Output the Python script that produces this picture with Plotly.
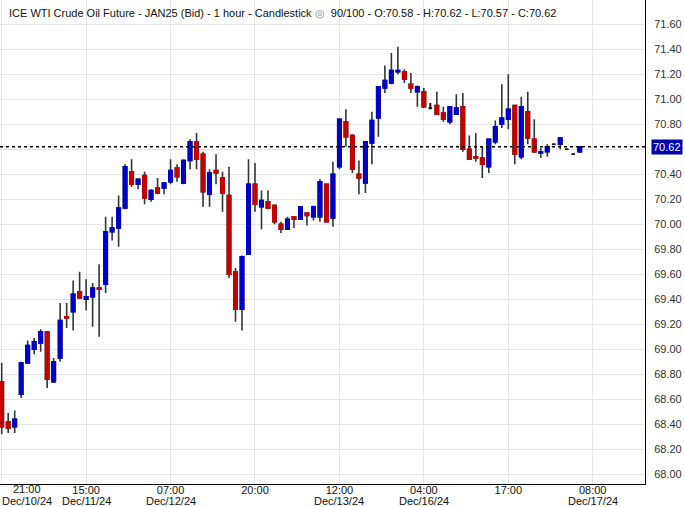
import plotly.graph_objects as go

# ---- data (hourly bars) ----
O = [68.74, 68.42, 68.38, 68.64, 68.89, 69.00, 69.05, 69.14, 68.74, 68.93,
     69.26, 69.30, 69.46, 69.40, 69.42, 69.49, 69.52, 69.94, 69.97, 70.13,
     70.42, 70.32, 70.39, 70.20, 70.29, 70.29, 70.34, 70.45, 70.33, 70.51,
     70.66, 70.56, 70.24, 70.43, 70.37, 70.23, 69.62, 69.32, 69.76, 70.32,
     70.14, 70.18, 70.15, 70.00, 69.96, 70.06, 70.04, 70.09, 70.06, 70.06,
     70.32, 70.05, 70.46, 70.82, 70.71, 70.40, 70.33, 70.65, 70.85, 71.09,
     71.13, 71.22, 71.22, 71.12, 71.06, 71.06, 70.93, 70.95, 70.89, 70.82,
     70.88, 70.94, 70.60, 70.54, 70.53, 70.46, 70.66, 70.80, 70.84, 70.95,
     70.54, 70.90, 70.68, 70.57, 70.58, 70.64, 70.64, 70.60, 70.56, 70.58]
H = [68.89, 68.49, 68.51, 68.90, 69.07, 69.09, 69.16, 69.14, 68.93, 69.37,
     69.37, 69.55, 69.62, 69.56, 69.53, 69.68, 70.06, 70.06, 70.23, 70.48,
     70.52, 70.36, 70.42, 70.28, 70.37, 70.33, 70.52, 70.48, 70.52, 70.68,
     70.73, 70.58, 70.44, 70.56, 70.42, 70.46, 69.65, 69.75, 70.52, 70.49,
     70.27, 70.27, 70.16, 70.02, 70.06, 70.06, 70.14, 70.09, 70.15, 70.36,
     70.32, 70.50, 70.84, 70.92, 70.72, 70.51, 70.66, 70.90, 71.10, 71.27,
     71.37, 71.42, 71.24, 71.21, 71.11, 71.09, 70.97, 71.06, 70.94, 70.94,
     71.04, 71.05, 70.71, 70.73, 70.62, 70.68, 70.83, 71.12, 71.20, 70.95,
     71.02, 71.06, 70.84, 70.61, 70.64, 70.64, 70.69, 70.60, 70.56, 70.62]
L = [68.32, 68.33, 68.33, 68.61, 68.89, 68.96, 68.98, 68.69, 68.73, 68.90,
     69.17, 69.15, 69.41, 69.31, 69.18, 69.10, 69.45, 69.87, 69.82, 70.12,
     70.30, 70.28, 70.16, 70.18, 70.24, 70.24, 70.32, 70.34, 70.32, 70.44,
     70.44, 70.14, 70.14, 70.32, 70.10, 69.57, 69.22, 69.15, 69.76, 70.10,
     69.96, 70.12, 70.00, 69.93, 69.96, 69.97, 70.04, 69.99, 70.03, 70.02,
     70.02, 69.98, 70.44, 70.62, 70.41, 70.24, 70.25, 70.48, 70.70, 71.05,
     71.12, 71.20, 71.13, 71.05, 70.94, 70.93, 70.92, 70.88, 70.82, 70.80,
     70.88, 70.58, 70.52, 70.50, 70.37, 70.41, 70.64, 70.77, 70.76, 70.48,
     70.52, 70.64, 70.57, 70.53, 70.54, 70.64, 70.60, 70.60, 70.56, 70.57]
C = [68.38, 68.37, 68.44, 68.89, 69.03, 69.06, 69.14, 68.76, 68.90, 69.23,
     69.25, 69.44, 69.41, 69.42, 69.49, 69.48, 69.94, 69.97, 70.13, 70.46,
     70.32, 70.36, 70.21, 70.27, 70.25, 70.33, 70.43, 70.38, 70.51, 70.66,
     70.52, 70.26, 70.41, 70.41, 70.25, 69.60, 69.32, 69.74, 70.32, 70.16,
     70.19, 70.13, 70.02, 69.96, 70.04, 70.04, 70.14, 70.07, 70.14, 70.34,
     70.02, 70.40, 70.84, 70.70, 70.44, 70.37, 70.66, 70.83, 71.10, 71.15,
     71.23, 71.23, 71.16, 71.09, 71.10, 70.94, 70.93, 70.88, 70.84, 70.94,
     70.93, 70.60, 70.52, 70.53, 70.48, 70.68, 70.78, 70.85, 70.92, 70.56,
     70.94, 70.69, 70.58, 70.58, 70.62, 70.64, 70.69, 70.60, 70.56, 70.62]

tick_idx = [0, 13, 26, 39, 52, 65, 78, 91]
tick_time = ["21:00", "15:00", "07:00", "20:00", "12:00", "04:00", "17:00", "08:00"]
tick_date = ["Dec/10/24", "Dec/11/24", "Dec/12/24", "", "Dec/13/24", "Dec/16/24", "", "Dec/17/24"]

price_ticks = [68.00, 68.20, 68.40, 68.60, 68.80, 69.00, 69.20, 69.40, 69.60,
               69.80, 70.00, 70.20, 70.40, 70.60, 70.80, 71.00, 71.20, 71.40, 71.60]

title = "ICE WTI Crude Oil Future - JAN25 (Bid) - 1 hour - Candlestick"

UP = "#0000c8"
DOWN = "#c40000"
WICK = "#2e3838"
FONT = "Liberation Sans, Arial, sans-serif"

n = len(O)
X = list(range(n))
last = C[-1]

body_i = [i for i in X if O[i] != C[i]]
doji_i = [i for i in X if O[i] == C[i]]

fig = go.Figure()
# wicks
fig.add_trace(go.Candlestick(
    x=X, open=O, high=H, low=L, close=C,
    increasing=dict(line=dict(color=WICK, width=1.6), fillcolor=WICK),
    decreasing=dict(line=dict(color=WICK, width=1.6), fillcolor=WICK),
    hoverinfo="skip", showlegend=False))
# bodies
fig.add_trace(go.Candlestick(
    x=body_i,
    open=[O[i] for i in body_i], close=[C[i] for i in body_i],
    high=[max(O[i], C[i]) for i in body_i], low=[min(O[i], C[i]) for i in body_i],
    increasing=dict(line=dict(color=UP, width=1.6), fillcolor=UP),
    decreasing=dict(line=dict(color=DOWN, width=1.6), fillcolor=DOWN),
    hoverinfo="skip", showlegend=False))
# unchanged bars
fig.add_trace(go.Candlestick(
    x=doji_i,
    open=[O[i] for i in doji_i], close=[C[i] for i in doji_i],
    high=[H[i] for i in doji_i], low=[L[i] for i in doji_i],
    increasing=dict(line=dict(color="#111111", width=1.6), fillcolor="#111111"),
    decreasing=dict(line=dict(color="#111111", width=1.6), fillcolor="#111111"),
    hoverinfo="skip", showlegend=False))

# last-price line
fig.add_shape(type="line", xref="paper", x0=0, x1=1, yref="y", y0=last, y1=last,
              line=dict(color="black", width=1.5, dash="3px,3px"), layer="above")

ann = []
# header
ann.append(dict(xref="paper", yref="paper", x=0, y=1, xanchor="left", yanchor="top",
                xshift=7, yshift=-5, showarrow=False, align="left",
                text=f"{title} <span style='color:#888'>◎</span>  {n}/100 - O:{O[-1]:.2f} - H:{H[-1]:.2f} - L:{L[-1]:.2f} - C:{C[-1]:.2f}",
                font=dict(family=FONT, size=11, color="#111111")))
# last price box
ann.append(dict(xref="paper", yref="y", x=1, y=last, xanchor="left", yanchor="middle",
                xshift=6, showarrow=False, text=f"{last:.2f}", bgcolor="#0000b0",
                borderpad=1, font=dict(family=FONT, size=11, color="white")))
# partially visible top label
ann.append(dict(xref="paper", yref="y", x=1, y=71.80, xanchor="left", yanchor="middle",
                xshift=9, showarrow=False, text="71.80",
                font=dict(family=FONT, size=11, color="#333333")))
# date lines under tick times
for k, (i, d) in enumerate(zip(tick_idx, tick_date)):
    if not d:
        continue
    if k == 0:
        ann.append(dict(xref="paper", yref="paper", x=0, y=0, xanchor="left", yanchor="top",
                        yshift=-9, showarrow=False, text=d,
                        font=dict(family=FONT, size=11, color="#111111")))
        ann.append(dict(xref="paper", yref="paper", x=0, y=0, xanchor="center", yanchor="top",
                        xshift=27, yshift=3, showarrow=False, text=tick_time[0],
                        font=dict(family=FONT, size=11, color="#111111")))
    else:
        ann.append(dict(xref="x", yref="paper", x=i, y=0, xanchor="center", yanchor="top",
                        yshift=-9, showarrow=False, text=d,
                        font=dict(family=FONT, size=11, color="#111111")))

fig.update_layout(
    width=685, height=507,
    margin=dict(l=0, r=40, t=0, b=23),
    paper_bgcolor="white", plot_bgcolor="white",
    boxgap=0.48, boxgroupgap=0,
    showlegend=False,
    annotations=ann,
    xaxis=dict(
        range=[-0.262, 99.05], rangeslider=dict(visible=False),
        tickmode="array", tickvals=tick_idx,
        ticktext=[""] + tick_time[1:],
        showgrid=True, gridcolor="#e6e6e6", gridwidth=1,
        showline=True, linecolor="black", linewidth=1,
        zeroline=False, ticks="", ticklabelstandoff=-4,
        tickfont=dict(family=FONT, size=11, color="#111111"),
    ),
    yaxis=dict(
        side="right", range=[67.922, 71.794],
        tickmode="array", tickvals=price_ticks,
        ticktext=["" if abs(v - 70.60) < 1e-9 else f"{v:.2f}" for v in price_ticks],
        showgrid=True, gridcolor="#e6e6e6", gridwidth=1,
        showline=True, linecolor="black", linewidth=1,
        zeroline=False, ticks="", ticklabelstandoff=6,
        tickfont=dict(family=FONT, size=11, color="#333333"),
    ),
)

fig.write_html("out.html", config={"displayModeBar": False},
               post_script="document.body.style.margin='0';document.body.style.padding='0';")
